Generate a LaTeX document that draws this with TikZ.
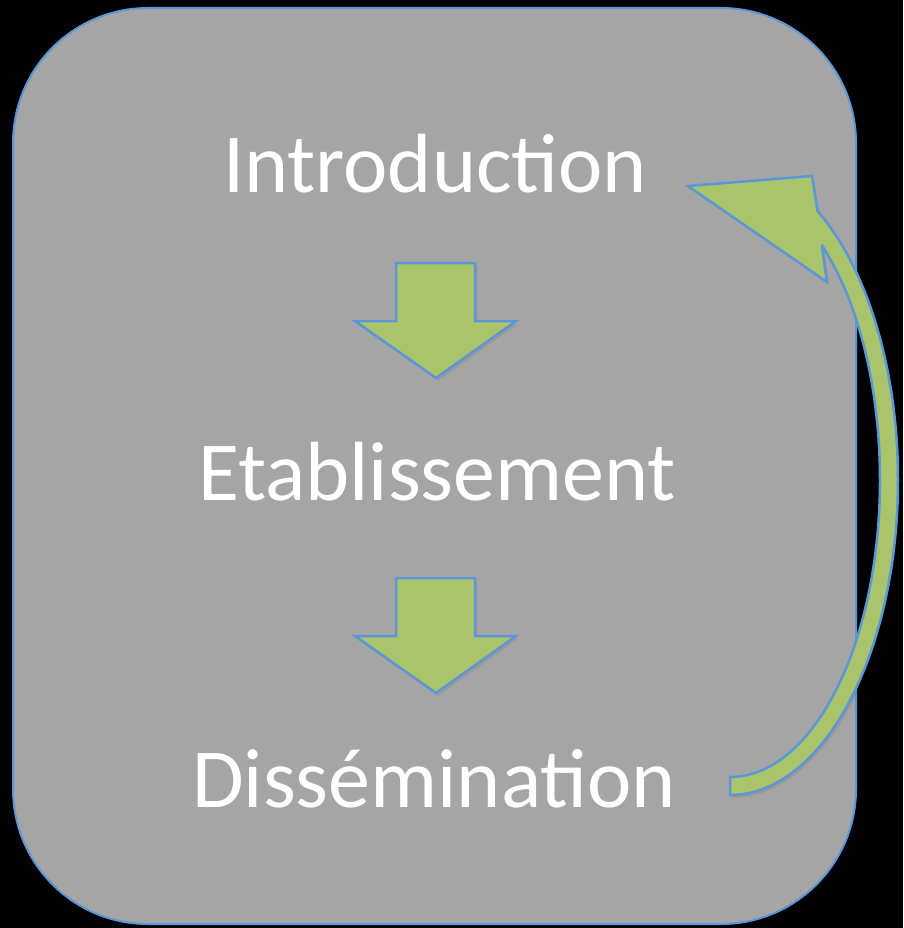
\documentclass[tikz,border=0pt]{standalone}
\usepackage{fontspec}
\setmainfont{Carlito}
\definecolor{boxgray}{HTML}{A5A5A5}
\definecolor{arrgreen}{HTML}{A9C46B}
\definecolor{edgeblue}{HTML}{5B96D6}
\tikzset{
  panel/.style={fill=boxgray, draw=edgeblue, line width=2pt, rounded corners=135pt},
  label/.style={text=white, font=\fontsize{84}{90}\selectfont, inner sep=0pt, anchor=base},
  blockarrow/.style={fill=arrgreen, draw=edgeblue, line width=2.5pt, line join=miter},
  arrowshadow/.style={fill=black, opacity=0.07, shift={(2pt,-3pt)}},
}
\begin{document}
\begin{tikzpicture}[x=1pt,y=-1pt]
  \fill[black] (0,0) rectangle (903,928);
  \useasboundingbox (0,0) rectangle (903,928);
  \draw[panel] (13,8) rectangle (856,924);
  \node[label] (intro) at (435,193) {Introduction};
  \node[label] (etab) at (437,500) {Etablissement};
  \node[label] (diss) at (434,807) {Dissémination};
  % down arrow 1
  \fill[arrowshadow] (396,263) -- (475,263) -- (475,321) -- (516,321) -- (436,378)
     -- (355,321) -- (396,321) -- cycle;
  \draw[blockarrow] (396,263) -- (475,263) -- (475,321) -- (516,321) -- (436,378)
     -- (355,321) -- (396,321) -- cycle;
  % down arrow 2
  \fill[arrowshadow] (396,578) -- (475,578) -- (475,636) -- (516,636) -- (436,693)
     -- (355,636) -- (396,636) -- cycle;
  \draw[blockarrow] (396,578) -- (475,578) -- (475,636) -- (516,636) -- (436,693)
     -- (355,636) -- (396,636) -- cycle;
  % curved return arrow
  \fill[arrowshadow]
    plot[smooth, domain=90:-58.6, samples=60, variable=\t] ({730+168*cos(\t)},{480+315*sin(\t)})
    -- (812,176) -- (688,186) -- (827,282) -- (822,247)
    -- plot[smooth, domain=-52:90, samples=60, variable=\t] ({730+150*cos(\t)},{480+297*sin(\t)})
    -- cycle;
  \draw[blockarrow]
    plot[smooth, domain=90:-58.6, samples=60, variable=\t] ({730+168*cos(\t)},{480+315*sin(\t)})
    -- (812,176) -- (688,186) -- (827,282) -- (822,247)
    -- plot[smooth, domain=-52:90, samples=60, variable=\t] ({730+150*cos(\t)},{480+297*sin(\t)})
    -- cycle;
\end{tikzpicture}
\end{document}
